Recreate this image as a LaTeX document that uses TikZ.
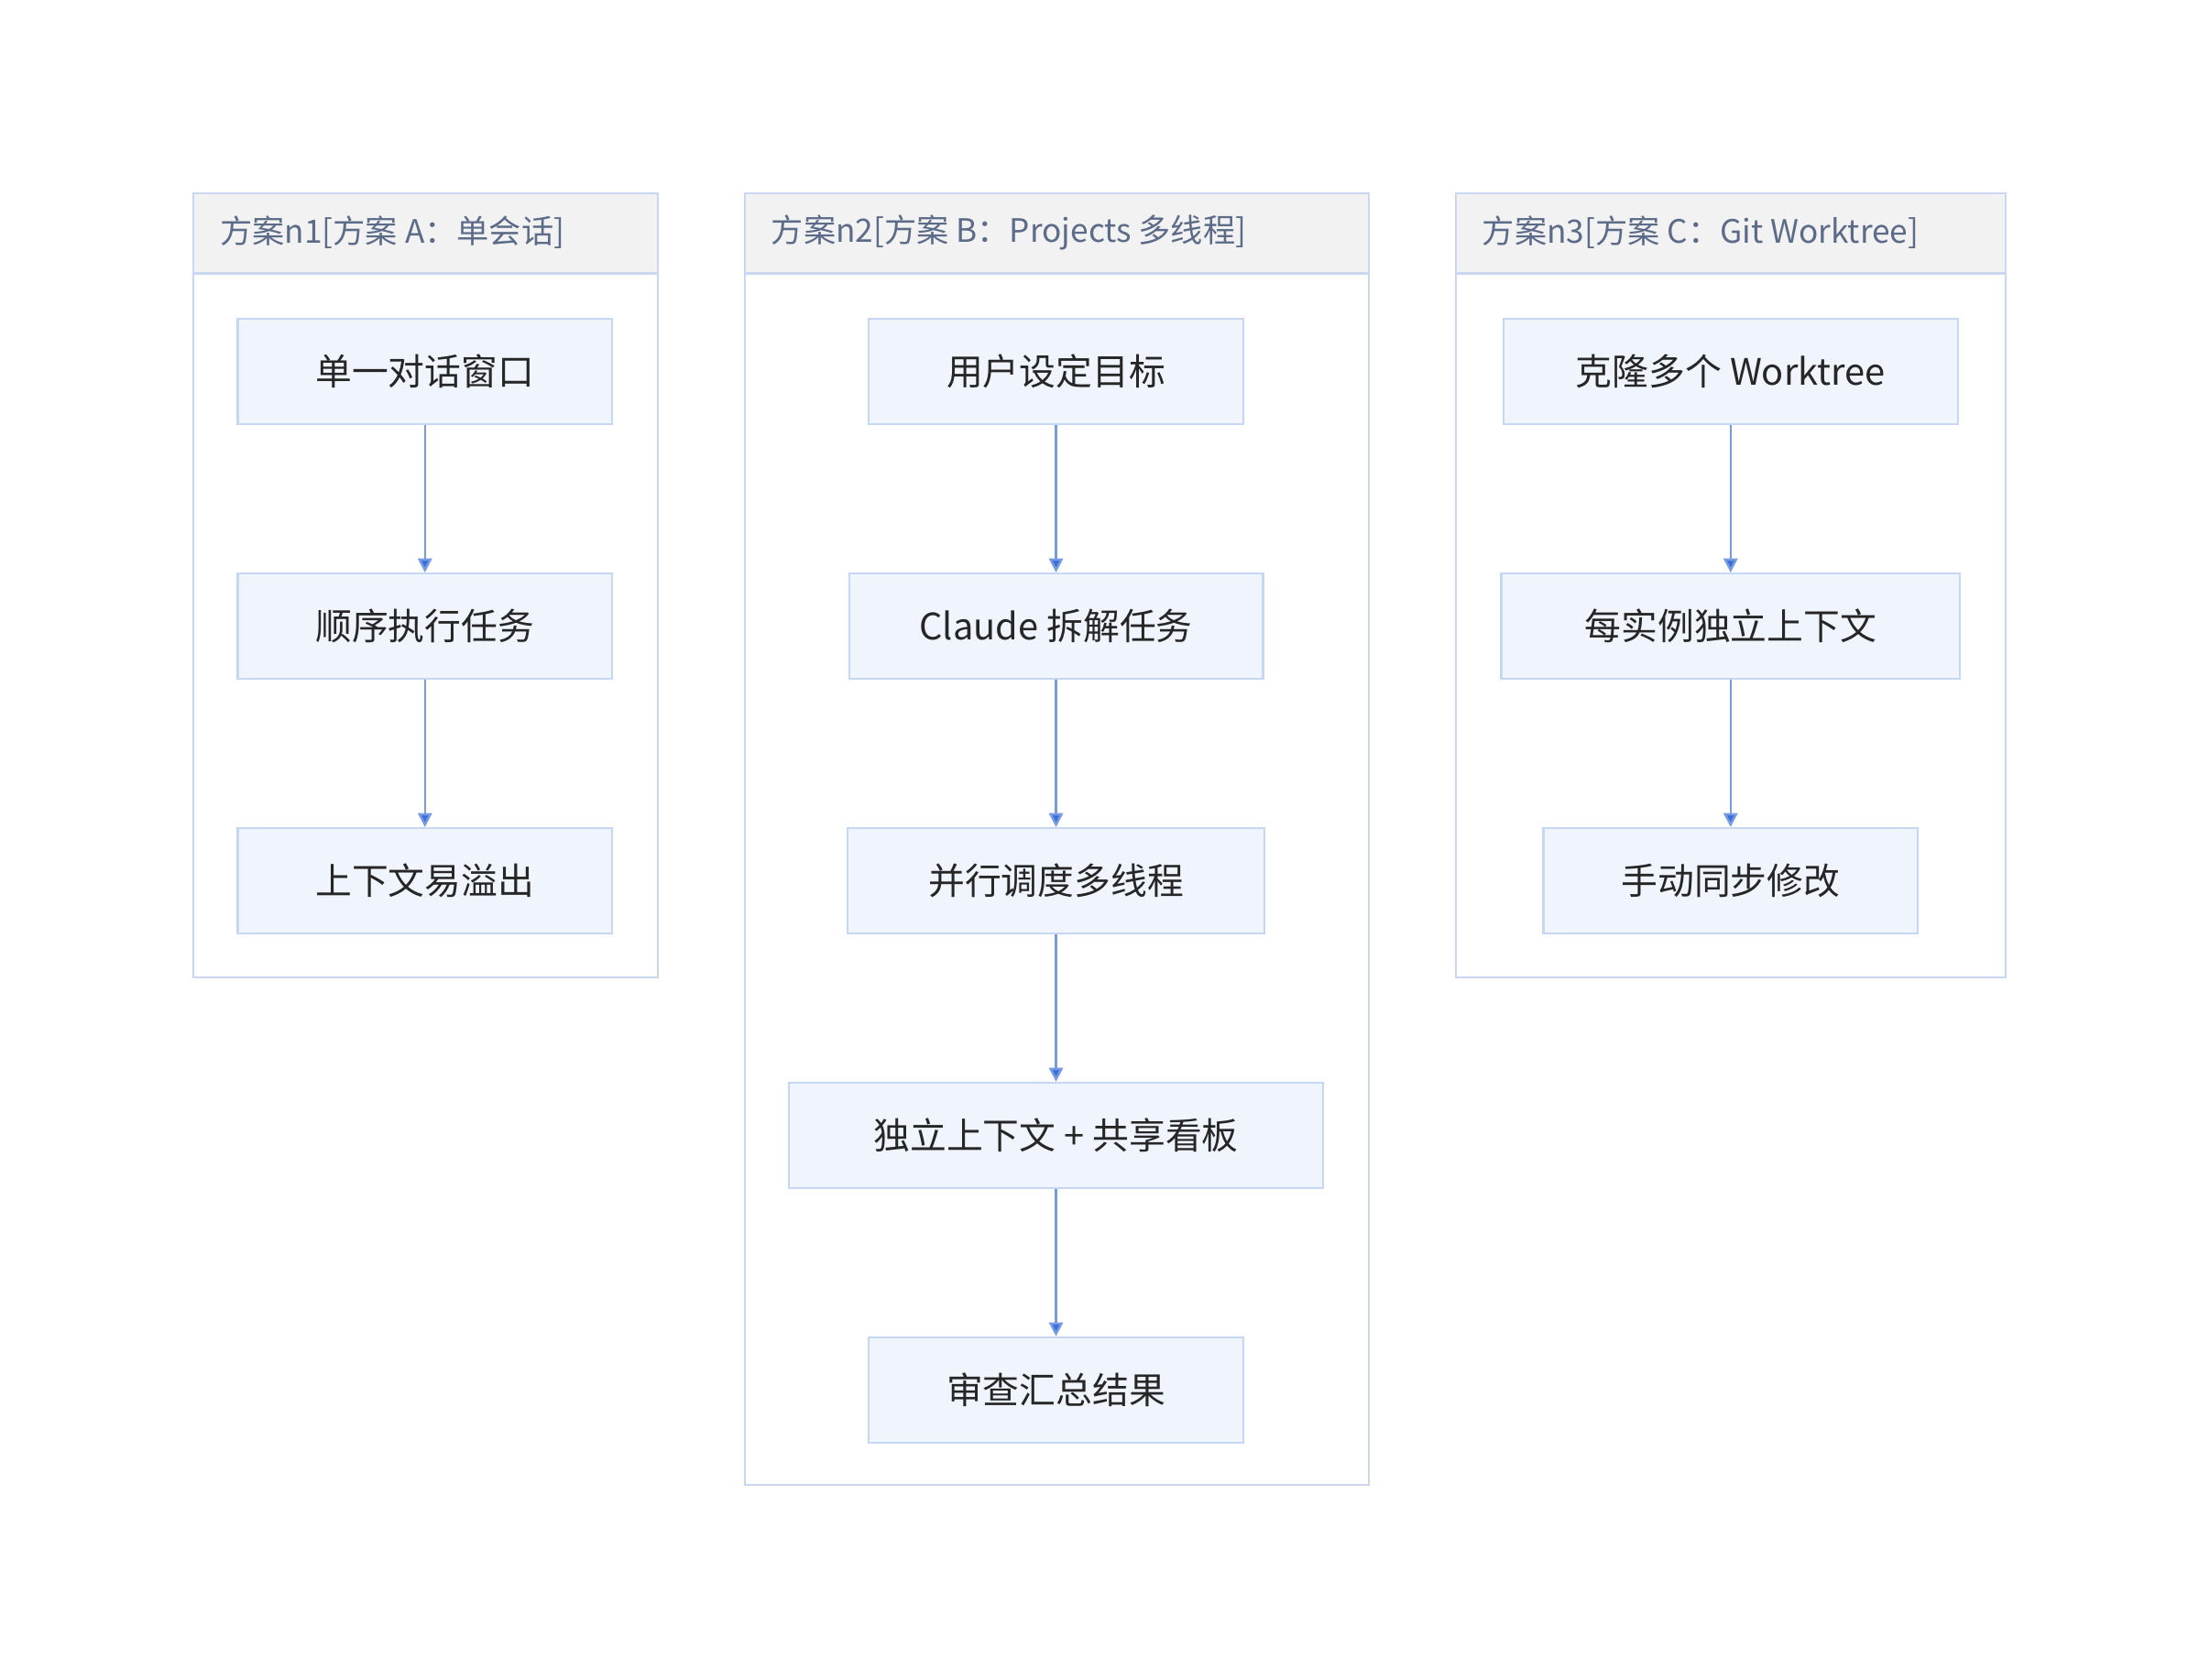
\documentclass[tikz,border=0pt]{standalone}
\usepackage{fontspec}
\setmainfont{Noto Sans CJK SC}
\usetikzlibrary{positioning,arrows.meta}
\definecolor{boxfill}{HTML}{EFF4FD}
\definecolor{boxline}{HTML}{C6D7F3}
\definecolor{arrowc}{HTML}{3B6FD9}
\definecolor{clusterline}{HTML}{C9D8F0}
\definecolor{headfill}{HTML}{F2F2F2}
\definecolor{headtext}{HTML}{5C6B88}

\begin{document}
\begin{tikzpicture}[x=0.5pt, y=-0.5pt, node distance = 52.5pt]
            \tikzstyle{task} = [draw=boxline, fill=boxfill, line width=0.8pt, minimum height=37.5pt, inner sep=0pt, font=\fontsize{13}{15}\selectfont, text=black!85]
            \tikzstyle{cluster} = [draw=clusterline, line width=0.8pt]
            \tikzstyle{head} = [cluster, fill=headfill]
            \tikzstyle{title} = [anchor=west, font=\fontsize{11.5}{14}\selectfont, text=headtext]
            \tikzstyle{flow} = [draw=arrowc!70!white, line width=0.8pt, -{Triangle[length=5pt, width=5pt, fill=arrowc]}]
            \useasboundingbox (0,0) rectangle (1568,1198);

            % clusters
            \draw [cluster] (138,138) rectangle (469,697);
            \draw [head] (138,138) rectangle (469,195);
            \node [title] (tA) at (150,166) {方案n1[方案 A：单会话]};
            \draw [cluster] (531,138) rectangle (976,1059);
            \draw [head] (531,138) rectangle (976,195);
            \node [title] (tB) at (543,166) {方案n2[方案 B：Projects 多线程]};
            \draw [cluster] (1038,138) rectangle (1430,697);
            \draw [head] (1038,138) rectangle (1430,195);
            \node [title] (tC) at (1050,166) {方案n3[方案 C：Git Worktree]};

            % plan A
            \node [task, minimum width=133.5pt] (A1) at (303,265) {单一对话窗口};
            \node [task, minimum width=133.5pt, below = of A1] (A2) {顺序执行任务};
            \node [task, minimum width=133.5pt, below = of A2] (A3) {上下文易溢出};

            % plan B
            \node [task, minimum width=133.5pt] (B1) at (753,265) {用户设定目标};
            \node [task, minimum width=147.5pt, below = of B1] (B2) {Claude 拆解任务};
            \node [task, minimum width=148.5pt, below = of B2] (B3) {并行调度多线程};
            \node [task, minimum width=190.5pt, below = of B3] (B4) {独立上下文 + 共享看板};
            \node [task, minimum width=133.5pt, below = of B4] (B5) {审查汇总结果};

            % plan C
            \node [task, minimum width=162pt] (C1) at (1234,265) {克隆多个 Worktree};
            \node [task, minimum width=163.5pt, below = of C1] (C2) {每实例独立上下文};
            \node [task, minimum width=133.5pt, below = of C2] (C3) {手动同步修改};

            \draw [flow] (A1) to (A2);
            \draw [flow] (A2) to (A3);
            \draw [flow] (B1) to (B2);
            \draw [flow] (B2) to (B3);
            \draw [flow] (B3) to (B4);
            \draw [flow] (B4) to (B5);
            \draw [flow] (C1) to (C2);
            \draw [flow] (C2) to (C3);
        \end{tikzpicture}
\end{document}
